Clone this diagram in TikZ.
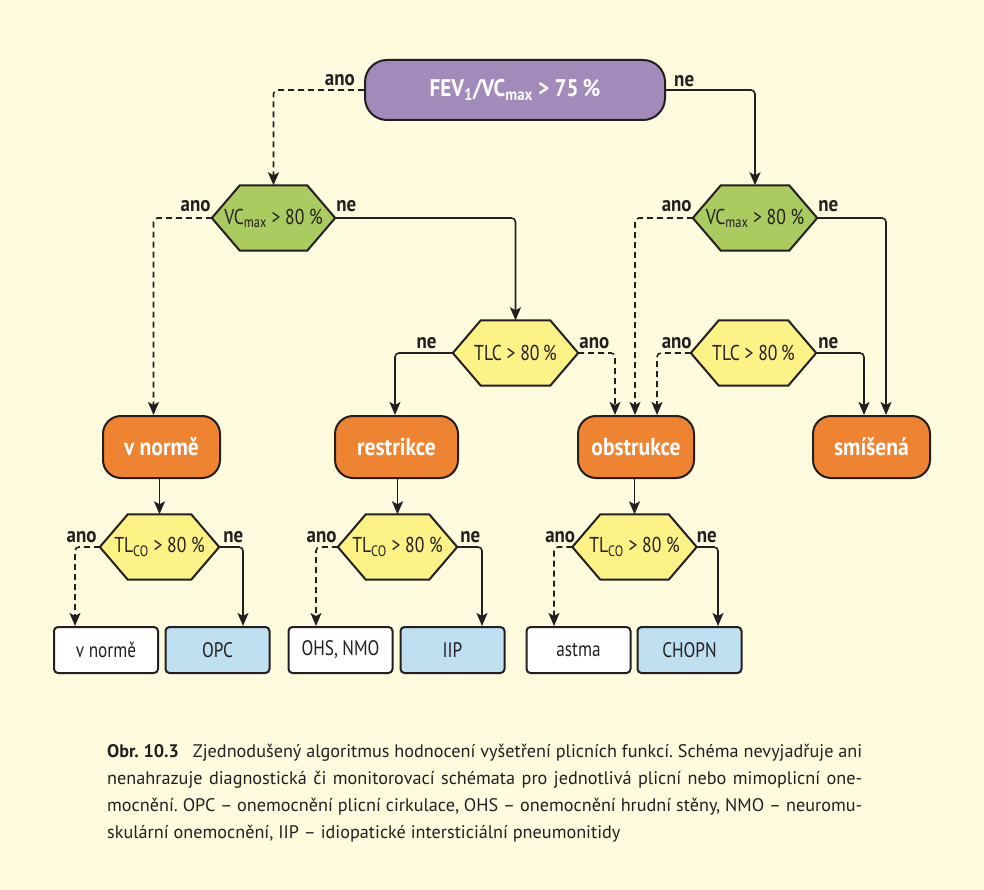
\documentclass[tikz,border=0pt]{standalone}
\usepackage{fontspec}
\setmainfont{PT Sans}[FakeStretch=0.82]
\newfontfamily\capfont{PT Sans}
\newfontfamily\widefont{PT Sans}[FakeStretch=0.88]
\usetikzlibrary{arrows.meta}
\definecolor{bgc}{HTML}{FFFBDF}
\definecolor{ink}{HTML}{231F20}
\definecolor{purp}{HTML}{A28BBB}
\definecolor{grn}{HTML}{AACB5F}
\definecolor{yel}{HTML}{FCF286}
\definecolor{org}{HTML}{EE8432}
\definecolor{lblue}{HTML}{BEE0F1}
\pgfdeclarelayer{back}
\pgfdeclarelayer{bg}
\pgfsetlayers{back,bg,main}
\newcommand\hexa[5]{%
  \node[hexn, minimum width=#5] (#1) at (#2) {#4};
  \begin{pgfonlayer}{bg}
  \draw[ink, line width=2pt, fill=#3, line join=miter]
    (#1.west) -- ([xshift=28pt]#1.north west) -- ([xshift=-28pt]#1.north east)
    -- (#1.east) -- ([xshift=-28pt]#1.south east) -- ([xshift=28pt]#1.south west) -- cycle;
  \end{pgfonlayer}}
\frenchspacing
\begin{document}
\begin{tikzpicture}[x=1pt,y=-1pt,
  hexn/.style={minimum height=65pt, inner sep=0pt, text=ink, font=\fontsize{21.5}{24}\selectfont},
  topbox/.style={draw=ink, line width=2pt, fill=purp, rounded corners=22pt, minimum width=300pt, minimum height=60pt, inner sep=0pt, text=white, font=\widefont\bfseries\fontsize{24}{27}\selectfont},
  dec/.style={draw=ink, line width=2pt, fill=org, rounded corners=18pt, minimum height=62pt, inner sep=0pt, text=white, font=\widefont\bfseries\fontsize{24.5}{27}\selectfont},
  leaf/.style={draw=ink, line width=2pt, rounded corners=4pt, minimum width=104pt, minimum height=46pt, inner sep=0pt, text=ink, font=\fontsize{21}{24}\selectfont},
  lab/.style={inner sep=0pt, text=ink, font=\widefont\bfseries\fontsize{21.5}{24}\selectfont},
  con/.style={draw=ink, line width=1.6pt, rounded corners=4pt, -{Stealth[length=13pt,width=11pt,inset=3pt]}},
  dsh/.style={con, dash pattern=on 6pt off 4pt},
  captxt/.style={anchor=base west, inner sep=0pt, text=ink, font=\capfont\fontsize{18.2}{27}\selectfont}
]
\begin{pgfonlayer}{back}
\fill[bgc] (0,0) rectangle (984,890);
\end{pgfonlayer}
\useasboundingbox (0,0) rectangle (984,890);

% top
\node[topbox] (top) at (515,90) {FEV\textsubscript{1}/VC\textsubscript{max} > 75\,\%};

% hexagons
\hexa{hexL}{273.5,218}{grn}{VC\textsubscript{max} > 80 \%}{123pt}
\hexa{hexR}{755,218}{grn}{VC\textsubscript{max} > 80 \%}{124pt}
\hexa{tlcL}{515.5,353}{yel}{TLC > 80\,\%}{125pt}
\hexa{tlcR}{753.5,353}{yel}{TLC > 80\,\%}{125pt}

% decision results
\node[dec, minimum width=117pt] (vn) at (161.5,447) {v normě};
\node[dec, minimum width=123pt] (re) at (396.5,447) {restrikce};
\node[dec, minimum width=116pt] (ob) at (636,447) {obstrukce};
\node[dec, minimum width=117pt] (sm) at (871.5,447) {smíšená};

% TLco hexagons
\hexa{tco1}{159.5,547}{yel}{TL\textsubscript{CO} > 80 \%}{119pt}
\hexa{tco2}{397.5,547}{yel}{TL\textsubscript{CO} > 80 \%}{119pt}
\hexa{tco3}{634.5,547}{yel}{TL\textsubscript{CO} > 80 \%}{124pt}

% leaves
\node[leaf, fill=white] (l1) at (106,650) {v normě};
\node[leaf, fill=lblue] (l2) at (217.5,650) {OPC};
\node[leaf, fill=white] (l3) at (340.5,650) {OHS, NMO};
\node[leaf, fill=lblue] (l4) at (452.5,650) {IIP};
\node[leaf, fill=white] (l5) at (578.5,650) {astma};
\node[leaf, fill=lblue] (l6) at (689.5,650) {CHOPN};

% connectors
\draw[dsh] (top.west) -| (hexL.north);
\draw[con] (top.east) -| (hexR.north);
\draw[dsh] (hexL.west) -| ([xshift=-8pt]vn.north);
\draw[con] (hexL.east) -| (tlcL.north);
\draw[con] (tlcL.west) -| ([xshift=-1.5pt]re.north);
\draw[dsh] (tlcL.east) -| ([xshift=-21pt]ob.north);
\draw[dsh] (hexR.west) -| ([xshift=-1pt]ob.north);
\draw[dsh] (tlcR.west) -| ([xshift=21pt]ob.north);
\draw[con] (tlcR.east) -| ([xshift=-7.5pt]sm.north);
\draw[con] (hexR.east) -| ([xshift=14.5pt]sm.north);
\draw[con] (vn.south -| tco1.north) -- (tco1.north);
\draw[con] (re.south -| tco2.north) -- (tco2.north);
\draw[con] (ob.south -| tco3.north) -- (tco3.north);
\draw[dsh] (tco1.west) -| ([xshift=-31pt]l1.north);
\draw[con] (tco1.east) -| ([xshift=25.5pt]l2.north);
\draw[dsh] (tco2.west) -| ([xshift=-24.5pt]l3.north);
\draw[con] (tco2.east) -| ([xshift=29.5pt]l4.north);
\draw[dsh] (tco3.west) -| ([xshift=-24.5pt]l5.north);
\draw[con] (tco3.east) -| ([xshift=28.5pt]l6.north);

% labels
\node[lab, anchor=base east] at ([xshift=-9pt,yshift=4pt]top.west) {ano};
\node[lab, anchor=base west] at ([xshift=8pt,yshift=3pt]top.east) {ne};
\node[lab, anchor=base east] at ([xshift=-1pt,yshift=6pt]hexL.west) {ano};
\node[lab, anchor=base west] at ([xshift=1pt,yshift=6pt]hexL.east) {ne};
\node[lab, anchor=base east] at ([xshift=-1pt,yshift=6pt]hexR.west) {ano};
\node[lab, anchor=base west] at ([xshift=1pt,yshift=6pt]hexR.east) {ne};
\node[lab, anchor=base east] at ([xshift=-16pt,yshift=5pt]tlcL.west) {ne};
\node[lab, anchor=base west] at ([xshift=1pt,yshift=5pt]tlcL.east) {ano};
\node[lab, anchor=base east] at ([xshift=1pt,yshift=5pt]tlcR.west) {ano};
\node[lab, anchor=base west] at ([xshift=2pt,yshift=5pt]tlcR.east) {ne};
\node[lab, anchor=base east] at ([xshift=-3pt,yshift=5pt]tco1.west) {ano};
\node[lab, anchor=base west] at ([xshift=4pt,yshift=5pt]tco1.east) {ne};
\node[lab, anchor=base east] at ([xshift=-1pt,yshift=5pt]tco2.west) {ano};
\node[lab, anchor=base west] at ([xshift=3pt,yshift=5pt]tco2.east) {ne};
\node[lab, anchor=base east] at ([xshift=3pt,yshift=5pt]tco3.west) {ano};
\node[lab, anchor=base west] at ([xshift=0pt,yshift=5pt]tco3.east) {ne};

% caption
\node[captxt] (c1) at (107,757) {\makebox[755pt][s]{\textbf{\mbox{Obr. 10.3}}\hspace{14pt}Zjednodušený algoritmus hodnocení vyšetření plicních funkcí. Schéma nevyjadřuje ani}};
\node[captxt] (c2) at (107,784) {\makebox[755pt][s]{nenahrazuje diagnostická či monitorovací schémata pro jednotlivá plicní nebo mimoplicní one-}};
\node[captxt] (c3) at (107,811) {\makebox[755pt][s]{mocnění. OPC – onemocnění plicní cirkulace, OHS – onemocnění hrudní stěny, NMO – neuromu-}};
\node[captxt] (c4) at (107,838) {skulární onemocnění, IIP – idiopatické intersticiální pneumonitidy};
\end{tikzpicture}
\end{document}
